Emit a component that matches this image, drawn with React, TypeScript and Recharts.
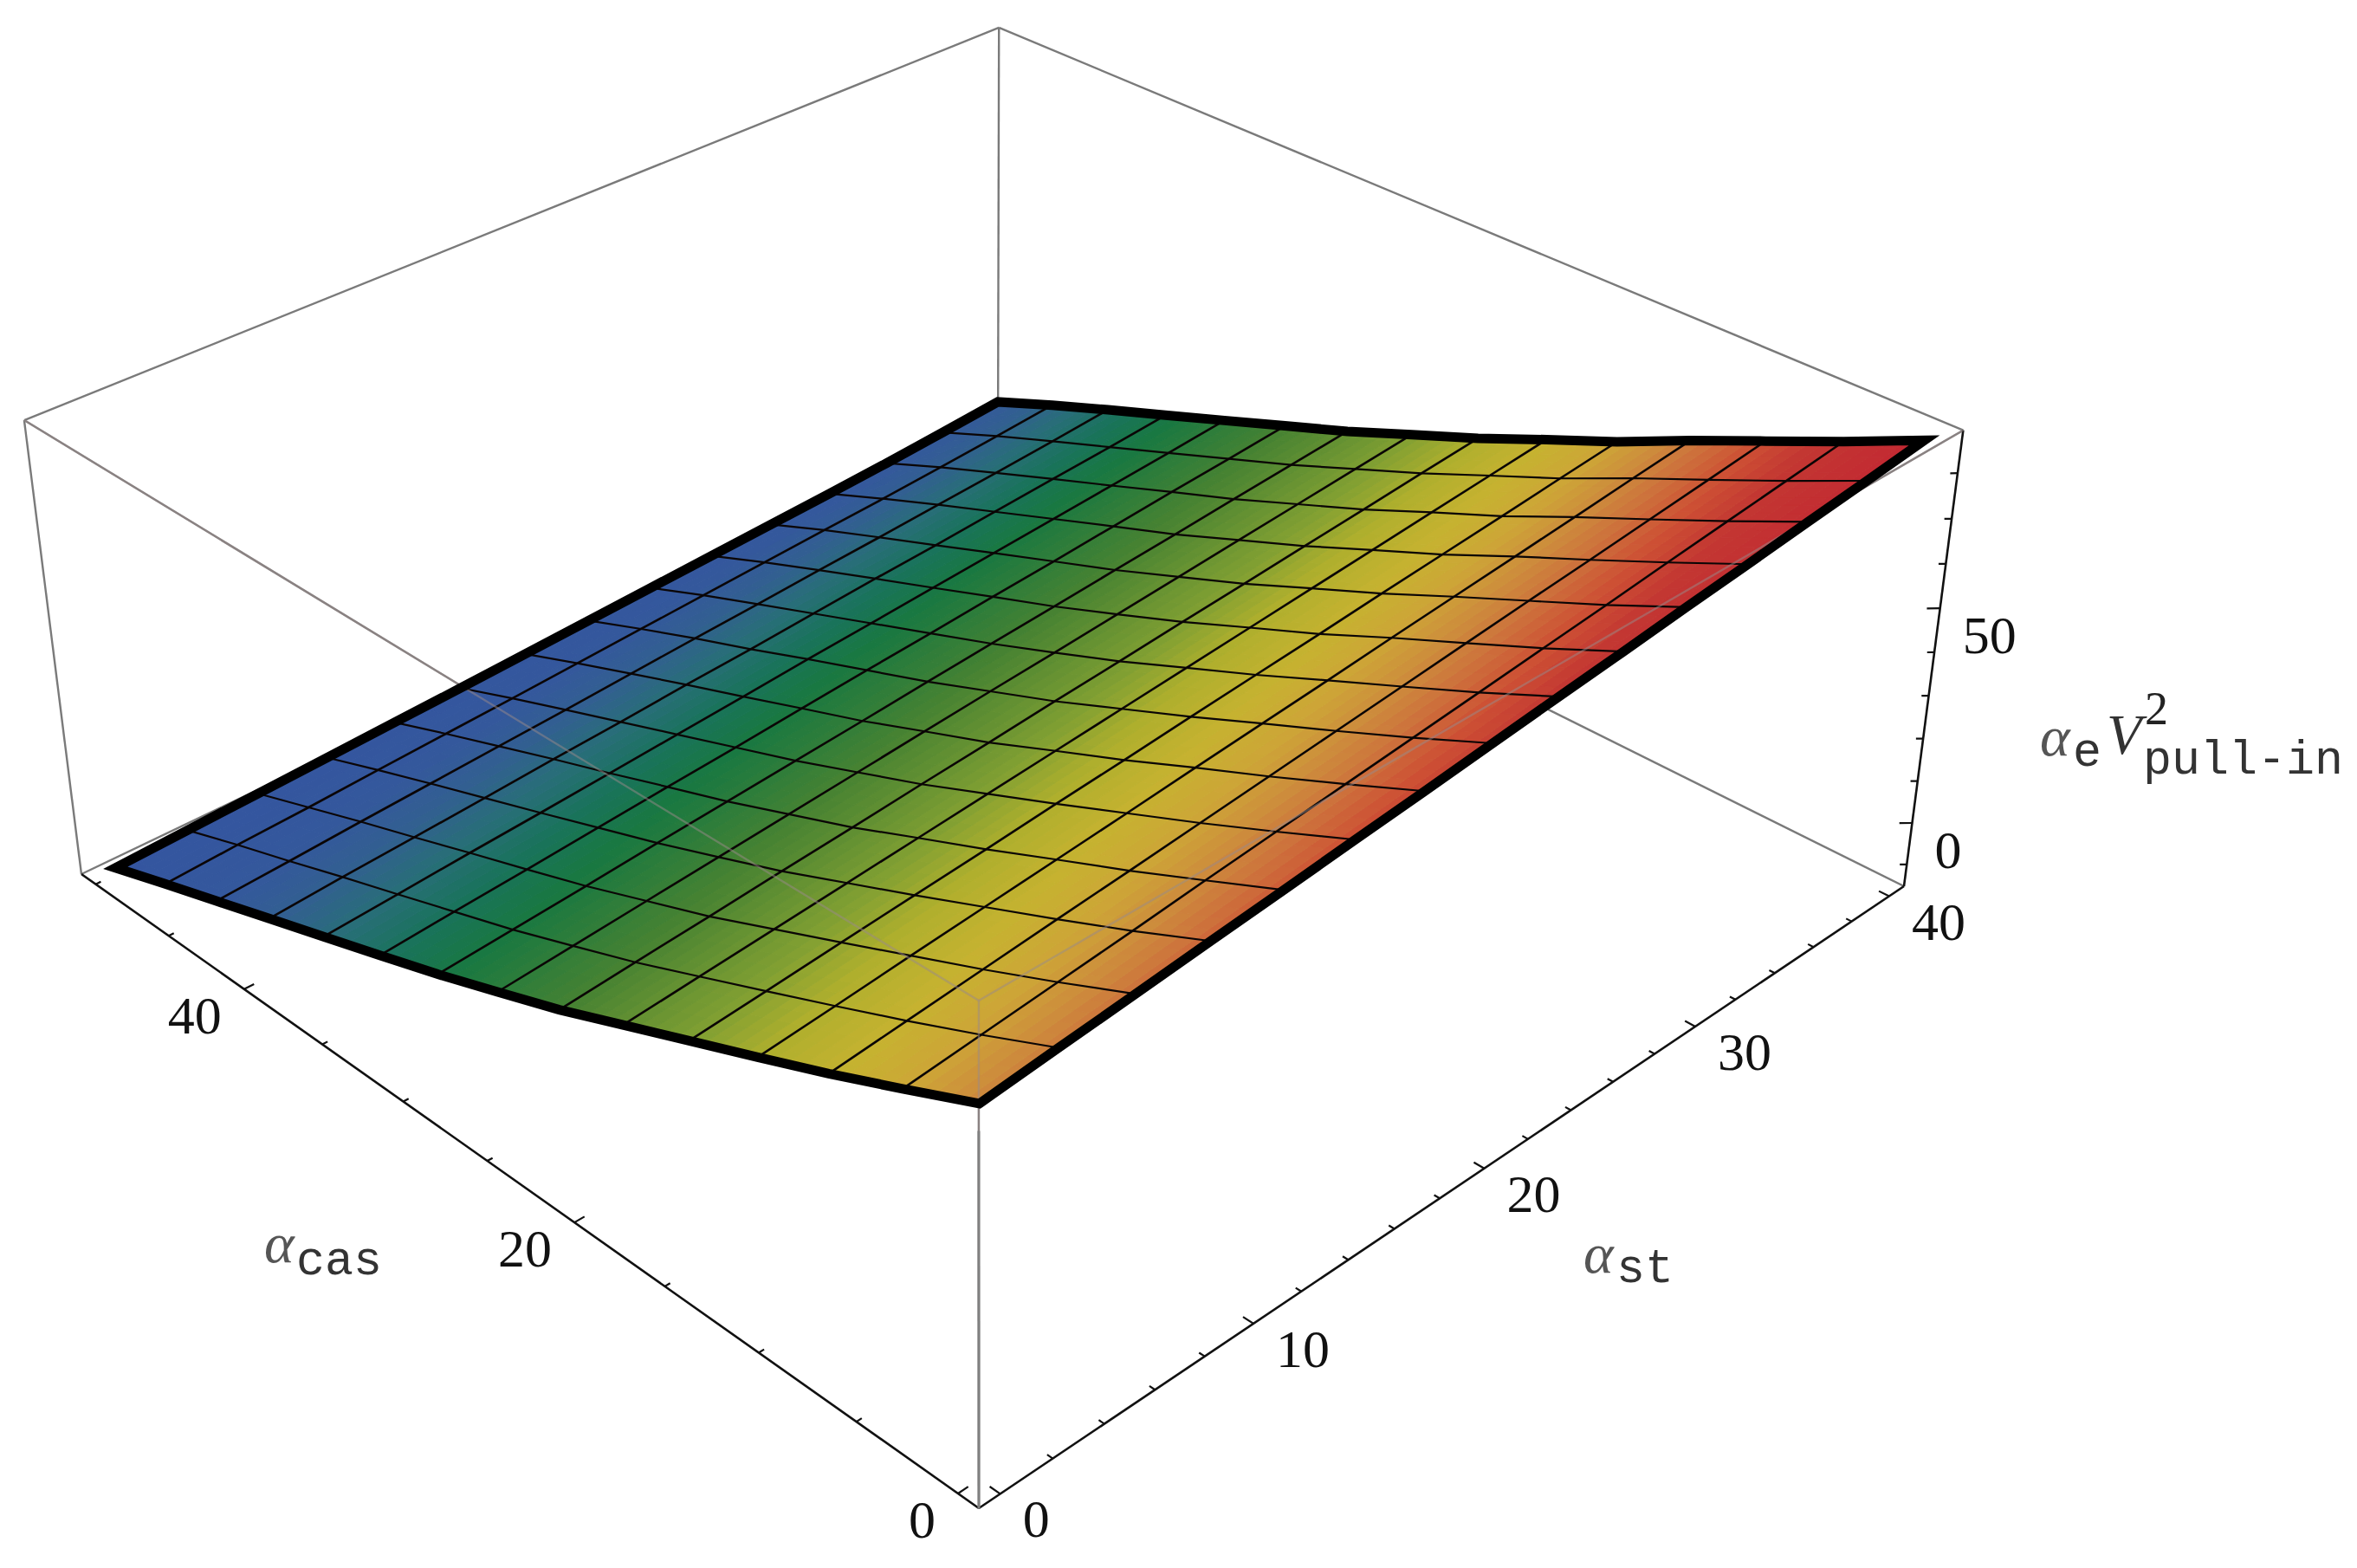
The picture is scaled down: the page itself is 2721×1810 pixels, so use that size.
import React from 'react';
import { ScatterChart, Scatter, XAxis, YAxis } from 'recharts';

// ---------- values ----------
const stMesh = [0, 2.857, 5.714, 8.571, 11.429, 14.286, 17.143, 20, 22.857, 25.714, 28.571, 31.429, 34.286, 37.143, 40];
const casMesh = [0, 3.571, 7.143, 10.714, 14.286, 17.857, 21.429, 25, 28.571, 32.143, 35.714, 39.286, 42.857, 46.429, 50];
// one row per casMesh value, one column per stMesh value
const pullIn = [
  [63.9, 65.6, 67.2, 68.9, 70.5, 72.2, 73.8, 75.5, 77.2, 78.8, 80.5, 82.1, 83.8, 85.4, 87.1],
  [57.1, 58.7, 60.3, 61.9, 63.6, 65.2, 66.8, 68.4, 70.0, 71.6, 73.2, 74.9, 76.5, 78.1, 79.7],
  [50.5, 52.1, 53.7, 55.3, 56.8, 58.4, 60.0, 61.6, 63.2, 64.8, 66.4, 67.9, 69.5, 71.1, 72.7],
  [44.3, 45.8, 47.4, 48.9, 50.4, 51.9, 53.5, 55.0, 56.5, 58.1, 59.6, 61.1, 62.6, 64.2, 65.7],
  [38.2, 39.6, 41.1, 42.5, 43.9, 45.4, 46.8, 48.3, 49.7, 51.1, 52.6, 54.0, 55.4, 56.9, 58.3],
  [32.1, 33.5, 34.9, 36.3, 37.7, 39.1, 40.5, 41.9, 43.3, 44.7, 46.1, 47.5, 48.9, 50.3, 51.7],
  [26.0, 27.4, 28.7, 30.1, 31.4, 32.8, 34.1, 35.5, 36.8, 38.2, 39.5, 40.9, 42.2, 43.6, 44.9],
  [20.6, 21.9, 23.2, 24.5, 25.8, 27.1, 28.4, 29.7, 30.9, 32.2, 33.5, 34.8, 36.1, 37.4, 38.7],
  [15.3, 16.5, 17.7, 19.0, 20.2, 21.4, 22.6, 23.9, 25.1, 26.3, 27.5, 28.7, 30.0, 31.2, 32.4],
  [10.4, 11.6, 12.7, 13.9, 15.1, 16.2, 17.4, 18.6, 19.7, 20.9, 22.0, 23.2, 24.4, 25.5, 26.7],
  [5.6, 6.7, 7.8, 8.8, 9.9, 11.0, 12.1, 13.3, 14.3, 15.4, 16.5, 17.6, 18.7, 19.8, 21.0],
  [0.8, 1.9, 2.8, 3.8, 4.9, 5.8, 6.9, 7.8, 8.9, 10.0, 10.9, 12.0, 13.1, 14.1, 15.3],
  [-4.0, -3.1, -2.1, -1.2, -0.3, 0.6, 1.6, 2.6, 3.5, 4.5, 5.4, 6.4, 7.4, 8.5, 9.7],
  [-8.8, -7.9, -7.2, -6.3, -5.5, -4.7, -3.8, -2.9, -2.0, -1.1, -0.2, 0.6, 1.6, 2.7, 3.9],
  [-13.7, -13.0, -12.3, -11.6, -10.9, -10.2, -9.4, -8.6, -7.8, -7.0, -6.2, -5.4, -4.5, -3.4, -2.2],
];
const stTicks = [0, 2, 4, 6, 8, 10, 12, 14, 16, 18, 20, 22, 24, 26, 28, 30, 32, 34, 36, 38, 40];
const stTickLabels = [0, 10, 20, 30, 40];
const casTicks = [0, 5, 10, 15, 20, 25, 30, 35, 40, 45, 50];
const casTickLabels = [0, 20, 40];
const zTicks = [-10, 0, 10, 20, 30, 40, 50, 60, 70, 80];
const zTickLabels = [0, 50];
const stDomain = [-0.8, 40.8];
const casDomain = [-1, 51];
const zDomain = [-15.3, 89.3];

// ---------- camera ----------
const W = 2721;
const H = 1810;
const CAM = {
  ax: 1516.4, bx: -1016.2, cx: -82, dx: 1130,
  ay: -509.3, by: -519.1, cy: -669.7, dy: 1741,
  g: 0.204, h: 0.211, i: -0.0725,
};
const fr = (v: number, d: number[]) => (v - d[0]) / (d[1] - d[0]);
function project(st: number, cas: number, z: number) {
  const x = fr(st, stDomain);
  const y = fr(cas, casDomain);
  const w = fr(z, zDomain);
  const den = 1 + CAM.g * x + CAM.h * y + CAM.i * w;
  return {
    px: (CAM.ax * x + CAM.bx * y + CAM.cx * w + CAM.dx) / den,
    py: (CAM.ay * x + CAM.by * y + CAM.cy * w + CAM.dy) / den,
  };
}

// ---------- colour ----------
const colourStops: [number, number, number, number][] = [
  [0, 52, 85, 160], [0.1, 52, 88, 156], [0.15, 50, 95, 145], [0.2, 40, 110, 120],
  [0.25, 25, 115, 90], [0.3, 25, 120, 65], [0.4, 70, 130, 50], [0.52, 130, 160, 50],
  [0.58, 175, 175, 45], [0.65, 198, 178, 48], [0.71, 205, 165, 55], [0.76, 205, 140, 60],
  [0.8, 205, 115, 60], [0.85, 205, 80, 52], [0.9, 195, 55, 50], [1, 195, 40, 50],
];
const zLo = -13.7;
const zHi = 87.1;
function colour(z: number) {
  const t = Math.min(1, Math.max(0, (z - zLo) / (zHi - zLo)));
  for (let k = 1; k < colourStops.length; k++) {
    const a = colourStops[k - 1];
    const b = colourStops[k];
    if (t <= b[0]) {
      const f = (t - a[0]) / (b[0] - a[0]);
      return `rgb(${Math.round(a[1] + (b[1] - a[1]) * f)},${Math.round(a[2] + (b[2] - a[2]) * f)},${Math.round(a[3] + (b[3] - a[3]) * f)})`;
    }
  }
  return 'rgb(195,40,50)';
}

// ---------- derived tables ----------
const SUB = 5;
const cells: any[] = [];
for (let j = 0; j < casMesh.length - 1; j++) {
  for (let i = 0; i < stMesh.length - 1; i++) {
    const c = project((stMesh[i] + stMesh[i + 1]) / 2, (casMesh[j] + casMesh[j + 1]) / 2, (pullIn[j][i] + pullIn[j + 1][i + 1]) / 2);
    cells.push({ ...c, i, j });
  }
}
const node = (u: number, v: number, i: number, j: number) => {
  const st = stMesh[i] + (stMesh[i + 1] - stMesh[i]) * u;
  const cas = casMesh[j] + (casMesh[j + 1] - casMesh[j]) * v;
  const z =
    pullIn[j][i] * (1 - u) * (1 - v) + pullIn[j][i + 1] * u * (1 - v) +
    pullIn[j + 1][i] * (1 - u) * v + pullIn[j + 1][i + 1] * u * v;
  return { ...project(st, cas, z), z };
};

const CellShape = (props: any) => {
  const { cx, cy, payload } = props;
  const ox = cx - payload.px;
  const oy = cy - payload.py;
  const polys: React.ReactNode[] = [];
  for (let a = 0; a < SUB; a++) {
    for (let b = 0; b < SUB; b++) {
      const p = [
        node(a / SUB, b / SUB, payload.i, payload.j),
        node((a + 1) / SUB, b / SUB, payload.i, payload.j),
        node((a + 1) / SUB, (b + 1) / SUB, payload.i, payload.j),
        node(a / SUB, (b + 1) / SUB, payload.i, payload.j),
      ];
      const col = colour((p[0].z + p[2].z) / 2);
      polys.push(
        <polygon
          key={`${a}-${b}`}
          points={p.map((q) => `${(q.px + ox).toFixed(1)},${(q.py + oy).toFixed(1)}`).join(' ')}
          fill={col}
          stroke={col}
          strokeWidth={1}
        />
      );
    }
  }
  return <g>{polys}</g>;
};

const [s0, s1] = stDomain;
const [c0, c1] = casDomain;
const [z0, z1] = zDomain;
const seg = (a: number[], b: number[]) => [project(a[0], a[1], a[2]), project(b[0], b[1], b[2])];

const grayEdges = [
  seg([s0, c0, z0], [s0, c0, z1]),
  seg([s0, c1, z0], [s0, c1, z1]),
  seg([s1, c1, z0], [s1, c1, z1]),
  seg([s1, c0, z1], [s1, c1, z1]),
  seg([s0, c1, z1], [s1, c1, z1]),
  seg([s0, c1, z1], [s0, c0, z1]),
  seg([s1, c0, z1], [s0, c0, z1]),
  seg([s1, c0, z0], [s1, c1, z0]),
  seg([s0, c1, z0], [s1, c1, z0]),
];
const overEdges = [
  seg([s0, c0, z0], [s0, c0, z1]),
  seg([s0, c1, z1], [s0, c0, z1]),
  seg([s1, c0, z1], [s0, c0, z1]),
];
const frontBelow = [project(s0, c0, z0), project(s0, c0, pullIn[0][0])];
const axisEdges = [
  seg([s0, c0, z0], [s1, c0, z0]),
  seg([s0, c0, z0], [s0, c1, z0]),
  seg([s1, c0, z0], [s1, c0, z1]),
];

const stTickSegs = stTicks.map((t) => seg([t, c0, z0], [t, c0 + (stTickLabels.includes(t) ? 0.5 : 0.27), z0]));
const casTickSegs = casTicks.map((t) => seg([s0 + (casTickLabels.includes(t) ? 0.38 : 0.2), t, z0], [s0, t, z0]));
const zTickSegs = zTicks.map((t) => {
  const len = zTickLabels.includes(t) ? 1 : 0.55;
  return seg([s1, c0, t], [s1 - 0.3 * len, c0 + 0.35 * len, t]);
});

const casLines = casMesh.map((_, j) => stMesh.map((st, i) => project(st, casMesh[j], pullIn[j][i])));
const stLines = stMesh.map((st, i) => casMesh.map((cas, j) => project(st, cas, pullIn[j][i])));
const outline = [
  ...casLines[0],
  ...stLines[stMesh.length - 1].slice(1),
  ...casLines[casMesh.length - 1].slice().reverse().slice(1),
  ...stLines[0].slice().reverse().slice(1),
  casLines[0][1],
];

const tickLabelStyle = { fontFamily: '"Liberation Serif", serif', fontSize: 62, fill: '#111' };
const TickLabel = (props: any) => {
  const { cx, cy, payload } = props;
  return (
    <text x={cx + payload.dx} y={cy + payload.dy} textAnchor={payload.anchor} dominantBaseline="central" style={tickLabelStyle}>
      {payload.text}
    </text>
  );
};
const labels = [
  ...stTickLabels.map((t) => ({ ...project(t, c0, z0), text: String(t), dx: 26, dy: 29, anchor: 'start' })),
  ...casTickLabels.map((t) => ({ ...project(s0, t, z0), text: String(t), dx: -26, dy: 30, anchor: 'end' })),
  ...zTickLabels.map((t) => ({ ...project(s1, c0, t), text: String(t), dx: 26, dy: 31, anchor: 'start' })),
];

const serifItalic = { fontFamily: '"Liberation Serif", serif', fontStyle: 'italic', fill: '#555' };
const serifUpright = { fontFamily: '"Liberation Serif", serif', fill: '#222' };
const mono = { fontFamily: '"Liberation Mono", monospace', fill: '#333' };
const titles = [
  { px: 305, py: 1457, parts: [
    { text: 'α', x: 305, y: 1457, size: 66, style: serifItalic },
    { text: 'cas', x: 342, y: 1471, size: 55, style: mono },
  ] },
  { px: 1828, py: 1469, parts: [
    { text: 'α', x: 1828, y: 1469, size: 66, style: serifItalic },
    { text: 'st', x: 1866, y: 1480, size: 55, style: mono },
  ] },
  { px: 2355, py: 872, parts: [
    { text: 'α', x: 2355, y: 872, size: 66, style: serifItalic },
    { text: 'e', x: 2393, y: 884, size: 55, style: mono },
    { text: 'V', x: 2432, y: 870, size: 66, style: { ...serifItalic, fill: '#333' } },
    { text: '2', x: 2476, y: 836, size: 54, style: serifUpright },
    { text: 'pull-in', x: 2474, y: 893, size: 55, style: mono },
  ] },
];
const Title = (props: any) => {
  const { cx, cy, payload } = props;
  const ox = cx - payload.px;
  const oy = cy - payload.py;
  return (
    <text>
      {payload.parts.map((p: any, k: number) => (
        <tspan key={k} x={p.x + ox} y={p.y + oy} fontSize={p.size} style={p.style}>
          {p.text}
        </tspan>
      ))}
    </text>
  );
};

const NoDot = () => null;

export default function App() {
  const lineSeries = (data: any[], key: string, stroke: string, width: number, extra: any = {}) => (
    <Scatter
      key={key}
      data={data}
      line={{ stroke, strokeWidth: width, ...extra }}
      shape={NoDot as any}
      isAnimationActive={false}
    />
  );
  return (
    <div style={{ position: 'absolute', left: 0, top: 0, width: W, height: H, background: '#fff' }}>
      <ScatterChart width={W} height={H} margin={{ top: 0, right: 0, bottom: 0, left: 0 }}>
        <XAxis type="number" dataKey="px" domain={[0, W]} hide allowDataOverflow />
        <YAxis type="number" dataKey="py" domain={[0, H]} reversed hide allowDataOverflow />
        {grayEdges.map((e, k) => lineSeries(e, `g${k}`, '#7a7a7a', 2.4))}
        {axisEdges.map((e, k) => lineSeries(e, `a${k}`, '#111', 2.6))}
        {stTickSegs.map((e, k) => lineSeries(e, `st${k}`, '#111', 2.2))}
        {casTickSegs.map((e, k) => lineSeries(e, `c${k}`, '#111', 2.2))}
        {zTickSegs.map((e, k) => lineSeries(e, `z${k}`, '#111', 2.2))}
        <Scatter data={cells} shape={CellShape as any} isAnimationActive={false} />
        {casLines.slice(1, -1).map((e, k) => lineSeries(e, `mc${k}`, '#0a0505', 2.6))}
        {stLines.slice(1, -1).map((e, k) => lineSeries(e, `ms${k}`, '#0a0505', 2.2))}
        {overEdges.map((e, k) => lineSeries(e, `o${k}`, '#9a8a8a', 2.4, { strokeOpacity: 0.5 }))}
        {lineSeries(outline, 'outline', '#000', 11, { strokeLinejoin: 'miter', strokeMiterlimit: 6 })}
        {lineSeries(frontBelow, 'front', '#808080', 3)}
        <Scatter data={labels} shape={TickLabel as any} isAnimationActive={false} />
        <Scatter data={titles} shape={Title as any} isAnimationActive={false} />
      </ScatterChart>
    </div>
  );
}
